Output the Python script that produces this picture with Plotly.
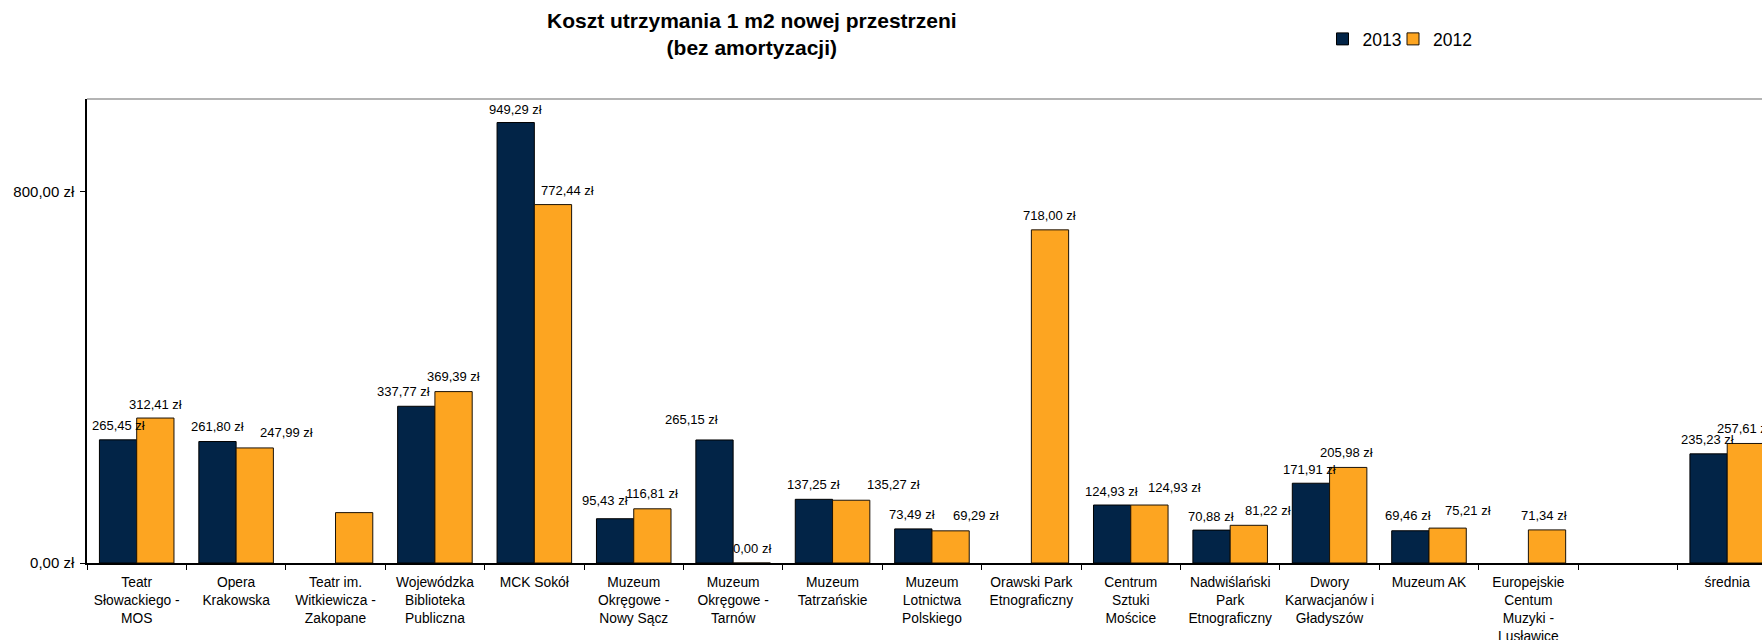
import plotly.graph_objects as go

# ---- data ----
categories = [
    "Teatr<br>Słowackiego -<br>MOS",
    "Opera<br>Krakowska",
    "Teatr im.<br>Witkiewicza -<br>Zakopane",
    "Wojewódzka<br>Biblioteka<br>Publiczna",
    "MCK Sokół",
    "Muzeum<br>Okręgowe -<br>Nowy Sącz",
    "Muzeum<br>Okręgowe -<br>Tarnów",
    "Muzeum<br>Tatrzańskie",
    "Muzeum<br>Lotnictwa<br>Polskiego",
    "Orawski Park<br>Etnograficzny",
    "Centrum<br>Sztuki<br>Mościce",
    "Nadwiślański<br>Park<br>Etnograficzny",
    "Dwory<br>Karwacjanów i<br>Gładyszów",
    "Muzeum AK",
    "Europejskie<br>Centum<br>Muzyki -<br>Lusławice",
    "",
    "średnia",
]
values_2013 = [265.45, 261.80, None, 337.77, 949.29, 95.43, 265.15, 137.25, 73.49,
               None, 124.93, 70.88, 171.91, 69.46, None, None, 235.23]
values_2012 = [312.41, 247.99, 108.6, 369.39, 772.44, 116.81, 0.00, 135.27, 69.29,
               718.00, 124.93, 81.22, 205.98, 75.21, 71.34, None, 257.61]
# which values carry a data label in the original
labelled_2013 = [True, True, False, True, True, True, True, True, True,
                 False, True, True, True, True, False, False, True]
labelled_2012 = [True, True, False, True, True, True, True, True, True,
                 True, True, True, True, True, True, False, True]
y_tick_values = [0, 800]
y_tick_labels = ["0,00 zł", "800,00 zł"]
series_names = ["2013", "2012"]
title_text = "<b>Koszt utrzymania 1 m2 nowej przestrzeni<br>(bez amortyzacji)</b>"

# ---- label placement (pixel offsets of the data labels, style only) ----
label_dx_2013 = [0, 0, 0, -13, 0, -10, -23, 0, -1, 0, -1, -1, -1, -2, 0, 0, -1]
label_dy_2013 = [14, 15, 0, 15, 13, 18, 20, 15, 14, 0, 14, 14, 14, 15, 0, 0, 14]
label_dx_2012 = [0, 32, 0, 0, 15, 0, 0, 42, 25, -1, 25, 19, -2, 20, -3, 0, -2]
label_dy_2012 = [14, 15, 0, 15, 14, 15, 15, 16, 15, 14, 18, 15, 15, 18, 14, 0, 15]

FONT = "Liberation Sans, Arial, Helvetica, sans-serif"
NAVY = "#022447"
ORANGE = "#FDA521"

W, H = 1762, 640
ML, MT, MB = 87, 99, 77
PW = W - ML
PH = H - MT - MB


def fmt(v):
    return f"{v:.2f}".replace(".", ",") + " zł"


fig = go.Figure()
fig.add_trace(go.Bar(
    x=categories, y=values_2013, name=series_names[0], legend="legend",
    showlegend=True,
    marker=dict(color=NAVY, line=dict(color="#000000", width=1)),
))
fig.add_trace(go.Bar(
    x=categories, y=values_2012, name=series_names[1], legend="legend2",
    showlegend=True,
    marker=dict(color=ORANGE, line=dict(color="#1a1208", width=1)),
))

BAR_HALF = 0.1875  # half of one bar width in category units (bargap 0.25, 2 bars)
annotations = []
for i, v in enumerate(values_2013):
    if v is None or not labelled_2013[i]:
        continue
    annotations.append(dict(x=i - BAR_HALF, y=v, xref="x", yref="y", text=fmt(v),
                            showarrow=False, xanchor="center", yanchor="middle",
                            xshift=label_dx_2013[i], yshift=label_dy_2013[i],
                            font=dict(family=FONT, size=13, color="#000000")))
for i, v in enumerate(values_2012):
    if v is None or not labelled_2012[i]:
        continue
    annotations.append(dict(x=i + BAR_HALF, y=v, xref="x", yref="y", text=fmt(v),
                            showarrow=False, xanchor="center", yanchor="middle",
                            xshift=label_dx_2012[i], yshift=label_dy_2012[i],
                            font=dict(family=FONT, size=13, color="#000000")))

# title as a centred two-line text block
annotations.append(dict(text=title_text, xref="paper", yref="paper",
                        x=(751.5 - ML) / PW, y=1 + (MT - 34) / PH,
                        xanchor="center", yanchor="middle", showarrow=False,
                        font=dict(family=FONT, size=21, color="#000000")))

legend_style = dict(orientation="h", xanchor="left", yanchor="middle",
                    y=1 + (MT - 39) / PH,
                    font=dict(family=FONT, size=17.5, color="#000000"),
                    bgcolor="rgba(0,0,0,0)", itemwidth=30, borderwidth=0)

fig.update_layout(
    width=W, height=H,
    margin=dict(l=ML, r=0, t=MT, b=MB, autoexpand=False),
    paper_bgcolor="white", plot_bgcolor="white",
    font=dict(family=FONT, color="#000000"),
    showlegend=True,
    barmode="group", bargap=0.25, bargroupgap=0,
    legend=dict(x=(1322.5 - ML) / PW, **legend_style),
    legend2=dict(x=(1393 - ML) / PW, **legend_style),
    annotations=annotations,
    shapes=[dict(type="line", xref="paper", yref="paper", x0=0, x1=1, y0=1, y1=1,
                 line=dict(color="#B4B4B4", width=2), layer="below")],
)
fig.update_xaxes(
    type="category", range=[-0.5, 16.35], tickson="boundaries",
    ticks="outside", ticklen=5, tickcolor="#000000", tickwidth=1,
    showline=True, linecolor="#000000", linewidth=1.5,
    showgrid=False, automargin=False, tickangle=0, ticklabelstandoff=6,
    tickfont=dict(family=FONT, size=13.8, color="#000000"),
)
fig.update_yaxes(
    range=[0, 1000], tickvals=y_tick_values, ticktext=y_tick_labels,
    ticks="outside", ticklen=5, tickcolor="#000000", tickwidth=1,
    showline=True, linecolor="#000000", linewidth=1.5,
    showgrid=False, zeroline=False, automargin=False, ticklabelstandoff=3,
    tickfont=dict(family=FONT, size=15, color="#000000"),
)

fig.write_html(
    "out.html",
    config={"displayModeBar": False},
    post_script="document.body.style.margin='0px';document.body.style.overflow='hidden';",
)
